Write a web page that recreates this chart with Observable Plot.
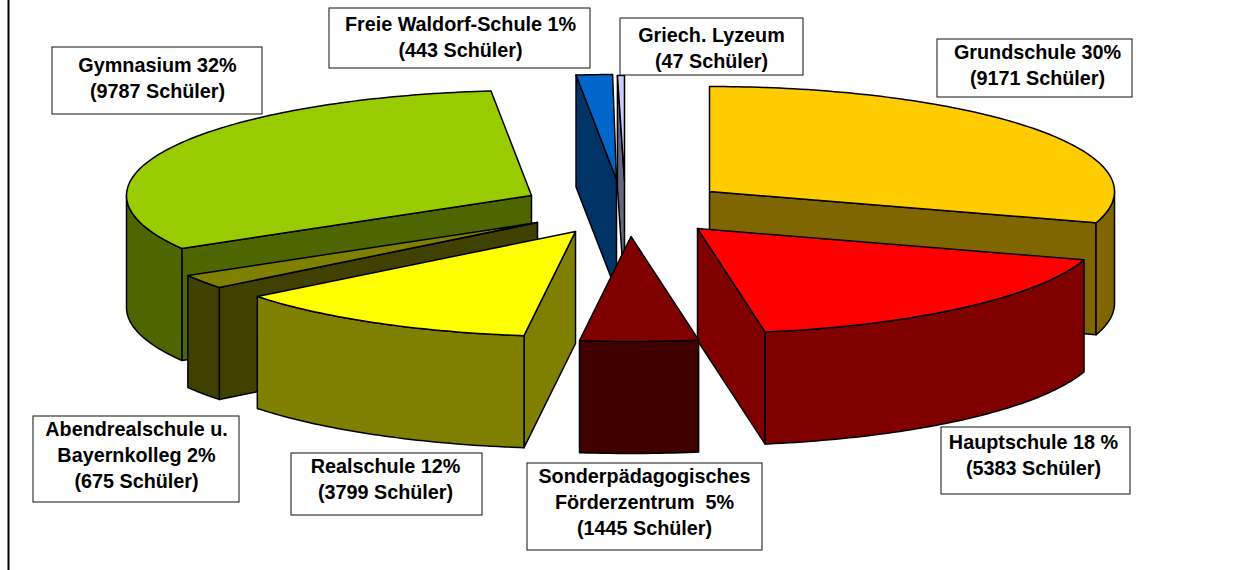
<!DOCTYPE html>
<html lang="de">
<head>
<meta charset="utf-8">
<title>Schüler nach Schulart</title>
<script src="https://cdn.jsdelivr.net/npm/d3@7"></script>
<script src="https://cdn.jsdelivr.net/npm/@observablehq/plot@0.6"></script>
<style>
html,body{margin:0;padding:0;background:#fff;overflow:hidden}
svg{display:block}
</style>
</head>
<body>
<div id="chart"></div>
<script>
// Data, clockwise from twelve o'clock
const schools = ["Grundschule","Hauptschule","Sonderpädagogisches Förderzentrum","Realschule","Abendrealschule u. Bayernkolleg","Gymnasium","Freie Waldorf-Schule","Griech. Lyzeum"];
const pupils = [9171,5383,1445,3799,675,9787,443,47];
const labelTexts = [
  "Grundschule 30%\n(9171 Schüler)",
  "Hauptschule 18 %\n(5383 Schüler)",
  "Sonderpädagogisches\nFörderzentrum  5%\n(1445 Schüler)",
  "Realschule 12%\n(3799 Schüler)",
  "Abendrealschule u.\nBayernkolleg 2%\n(675 Schüler)",
  "Gymnasium 32%\n(9787 Schüler)",
  "Freie Waldorf-Schule 1%\n(443 Schüler)",
  "Griech. Lyzeum\n(47 Schüler)"
];

// Styles
const topColors = ["#ffcc00","#ff0000","#800000","#ffff00","#808000","#99cc00","#0066cc","#ccccff"];
const wallColors = ["#806600","#800000","#400000","#808000","#404000","#4d6600","#003366","#666680"];

// Layout of the exploded pie: where each slice's tip lies on the page
const tipX = [709,697,630.5,575,537,531,616,624];
const tipY = [191,228,236,231,222,195,179,180];
const radiusX = 405, radiusY = 105, depth = 112;
const minSweep = 1; // the thinnest slice stays visible
const boxes = [
  [937,39,1132,97],[941,427,1130,494],[527,463,762,550],[291,453,482,515],
  [33,416,239,502],[52,47,262,114],[329,8,590,68],[620,18,803,75]
];
const textCentreY = [63.5,453.5,500.5,477.5,453.5,76.5,35.5,46.5];
const textCentreX = [1037,1033,644,385,136,157,460,711];
const paintOrder = [7,6,0,5,4,1,3,2];

const total = d3.sum(pupils);
const edges = d3.cumsum(pupils).map(v => v / total * 360);
const startAngle = i => (i === 0 ? 0 : Math.min(edges[i - 1], edges[i] - minSweep));
const rad = a => a * Math.PI / 180;
const rim = (i, a, drop = 0) => ({
  x: tipX[i] + radiusX * Math.sin(rad(a)),
  y: tipY[i] - radiusY * Math.cos(rad(a)) + drop
});
const arcAngles = (a0, a1) => {
  const out = [a0];
  for (let a = Math.ceil(a0); a < a1; a++) if (a > a0) out.push(a);
  out.push(a1);
  return out;
};
const face = (points, fill) => Plot.line(points, {x: "x", y: "y", fill, stroke: "#000", strokeWidth: 1.5, curve: "linear-closed", strokeLinejoin: "round"});

const marks = [];
for (const i of paintOrder) {
  const a0 = startAngle(i), a1 = edges[i];
  const tip = {x: tipX[i], y: tipY[i]};
  const tipLow = {x: tipX[i], y: tipY[i] + depth};
  // radial side faces turned towards the viewer
  if (Math.sin(rad(a0)) < 0) marks.push(face([tip, rim(i, a0), rim(i, a0, depth), tipLow], wallColors[i]));
  if (Math.sin(rad(a1)) > 0) marks.push(face([tip, rim(i, a1), rim(i, a1, depth), tipLow], wallColors[i]));
  // outer wall: front half of the rim only
  const w0 = Math.max(a0, 90), w1 = Math.min(a1, 270);
  if (w1 > w0) {
    const as = arcAngles(w0, w1);
    marks.push(face([...as.map(a => rim(i, a)), ...as.slice().reverse().map(a => rim(i, a, depth))], wallColors[i]));
  }
  // top
  marks.push(face([tip, ...arcAngles(a0, a1).map(a => rim(i, a))], topColors[i]));
}

const labelRows = schools.map((s, i) => ({
  school: s, text: labelTexts[i],
  x1: boxes[i][0], y1: boxes[i][1], x2: boxes[i][2], y2: boxes[i][3],
  cx: textCentreX[i], cy: textCentreY[i]
}));

const chart = Plot.plot({
  width: 1246, height: 570,
  margin: 0,
  x: {domain: [0, 1246], range: [0, 1246], axis: null},
  y: {domain: [0, 570], range: [0, 570], axis: null},
  style: {background: "#fff"},
  marks: [
    Plot.ruleX([8], {y1: 0, y2: 570, stroke: "#000", strokeWidth: 2}),
    ...marks,
    Plot.rect(labelRows, {x1: "x1", x2: "x2", y1: "y1", y2: "y2", fill: "#fff", stroke: "#111", strokeWidth: 1}),
    Plot.text(labelRows, {x: "cx", y: "cy", text: "text", fill: "#000", fontFamily: "Liberation Sans", fontWeight: "bold", fontSize: 19.8, lineHeight: 1.31})
  ]
});
document.getElementById("chart").append(chart);
</script>
</body>
</html>
